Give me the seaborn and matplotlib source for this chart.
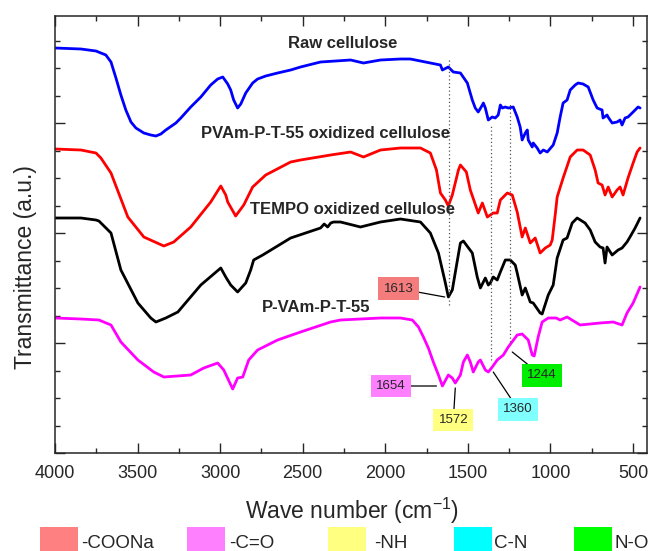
import numpy as np
import pandas as pd
import matplotlib
matplotlib.use("Agg")
import matplotlib.pyplot as plt
import seaborn as sns
from matplotlib.patches import Rectangle
from matplotlib.ticker import MultipleLocator

# ---------------- data ----------------
raw_wn = [4000, 3843, 3752, 3692, 3661, 3631, 3601, 3571, 3540, 3510, 3462, 3420, 3389, 3359, 3329, 3268, 3238,
          3178, 3117, 3057, 3015, 2984, 2954, 2936, 2918, 2894, 2875, 2845, 2803, 2773, 2724, 2652, 2573, 2513,
          2392, 2301, 2210, 2132, 2029, 1908, 1848, 1787, 1727, 1666, 1654, 1618, 1588, 1545, 1503, 1473, 1455,
          1437, 1412, 1406, 1394, 1376, 1352, 1334, 1316, 1303, 1291, 1273, 1255, 1225, 1201, 1183, 1171, 1152,
          1140, 1134, 1110, 1104, 1080, 1062, 1043, 1019, 983, 959, 941, 923, 899, 880, 850, 832, 802, 771, 741,
          717, 687, 681, 657, 651, 626, 596, 578, 566, 548, 530, 499, 469, 457]
raw_t = [405, 404, 402, 398, 391, 375, 358, 343, 331, 325, 320, 318, 317, 319, 323, 330, 335,
         346, 356, 368, 374, 376, 369, 363, 353, 345, 349, 360, 370, 374, 377, 380, 383, 386,
         391, 392, 393, 390, 393, 394, 394, 392, 390, 388, 383, 386, 381, 380, 370, 353, 345,
         341, 348, 350, 345, 333, 336, 335, 338, 348, 345, 346, 345, 346, 336, 326, 313, 320,
         323, 313, 306, 310, 305, 300, 303, 301, 308, 320, 336, 350, 353, 363, 368, 370, 369, 366, 353,
         345, 343, 335, 338, 336, 330, 331, 333, 328, 335, 336, 341, 346, 345]

pvam_ox_wn = [4000, 3843, 3752, 3722, 3661, 3559, 3462, 3341, 3281, 3178, 3057, 2996, 2966, 2954, 2906, 2857,
              2803, 2724, 2573, 2513, 2331, 2210, 2132, 2029, 1908, 1787, 1727, 1690, 1666, 1636, 1618, 1594,
              1557, 1545, 1509, 1485, 1437, 1412, 1382, 1346, 1322, 1303, 1261, 1231, 1201, 1171, 1152, 1122,
              1092, 1062, 1031, 1001, 989, 971, 959, 923, 880, 838, 802, 759, 729, 711, 687, 669, 650, 626,
              596, 578, 560, 530, 499, 475, 457]
pvam_ox_t = [304, 303, 300, 295, 280, 236, 216, 207, 211, 226, 251, 267, 258, 251, 237, 248,
             266, 278, 291, 293, 298, 301, 296, 303, 305, 305, 300, 283, 260, 253, 247, 258,
             283, 288, 281, 263, 240, 250, 236, 240, 240, 253, 260, 258, 241, 216, 225, 210,
             215, 200, 205, 208, 213, 238, 256, 275, 296, 303, 303, 298, 283, 270, 268, 258, 266, 256,
             263, 266, 258, 275, 290, 301, 305]

tempo_wn = [4000, 3843, 3752, 3734, 3661, 3601, 3498, 3420, 3389, 3329, 3256, 3117, 2996, 2966, 2936, 2894,
            2845, 2815, 2797, 2742, 2573, 2392, 2370, 2349, 2330, 2313, 2271, 2150, 2029, 1908, 1787, 1727,
            1678, 1636, 1618, 1594, 1563, 1545, 1527, 1473, 1443, 1424, 1394, 1376, 1364, 1346, 1322, 1303,
            1273, 1243, 1213, 1201, 1171, 1152, 1122, 1104, 1062, 1050, 1013, 983, 959, 923, 899, 868, 838,
            790, 759, 729, 699, 681, 669, 657, 626, 590, 566, 536, 518, 487, 457]
tempo_t = [235, 235, 233, 232, 220, 183, 150, 135, 131, 135, 141, 168, 185, 176, 168, 161,
           170, 183, 193, 198, 215, 225, 229, 226, 230, 231, 231, 226, 231, 234, 231, 220,
           200, 170, 156, 163, 193, 210, 212, 200, 176, 165, 175, 168, 170, 176, 173, 181,
           193, 193, 188, 180, 158, 165, 151, 150, 140, 139, 158, 168, 195, 213, 215, 230, 235,
           230, 223, 211, 206, 205, 190, 206, 198, 203, 205, 211, 216, 225, 235]

pvam_wn = [4000, 3843, 3734, 3661, 3601, 3498, 3402, 3341, 3178, 3099, 3015, 2978, 2924, 2894, 2863, 2827,
           2773, 2652, 2513, 2331, 2271, 2029, 1908, 1836, 1799, 1769, 1739, 1709, 1678, 1654, 1618, 1594,
           1576, 1545, 1527, 1503, 1485, 1467, 1437, 1424, 1394, 1376, 1352, 1322, 1285, 1255, 1201, 1171,
           1134, 1110, 1098, 1074, 1050, 1013, 965, 941, 899, 820, 699, 620, 566, 536, 499, 457]
pvam_t = [135, 134, 133, 128, 111, 93, 81, 76, 78, 85, 90, 83, 64, 75, 76, 93,
          103, 113, 121, 131, 133, 135, 135, 133, 126, 116, 105, 91, 78, 67, 78, 75,
          70, 78, 91, 98, 91, 81, 91, 93, 83, 81, 86, 93, 98, 106, 118, 119,
          113, 98, 97, 116, 131, 135, 135, 133, 136, 128, 130, 131, 128, 140, 150, 166]

sample_names = ["Raw cellulose", "PVAm-P-T-55 oxidized cellulose", "TEMPO oxidized cellulose", "P-VAm-P-T-55"]
sample_colors = ["#0000FF", "#FF0000", "#000000", "#FF00FF"]
label_wn = [2259, 2362, 2198, 2416]
label_t = [409, 320, 243, 145]

peak_labels = ["1613", "1654", "1572", "1360", "1244"]
peak_colors = ["#F47C7C", "#FF80FF", "#FFFF80", "#80FFFF", "#00EE00"]
peak_xy_wn = [1640, 1690, 1576, 1346, 1231]
peak_xy_t = [156, 67, 65, 81, 101]
peak_box_wn = [1920, 1966, 1588, 1195, 1053]
peak_box_t = [164.5, 67, 33, 43.5, 77.5]

guide_wn = [1613, 1360, 1244]
guide_lo = [148, 93, 111]
guide_hi = [393, 328, 351]

legend_labels = ["-COONa", "-C=O", "-NH", "C-N", "N-O"]
legend_colors = ["#FF8080", "#FF80FF", "#FFFF80", "#00FFFF", "#00FF00"]

xticks = [4000, 3500, 3000, 2500, 2000, 1500, 1000, 500]

# ---------------- build table ----------------
frames = []
for name, wn, t in zip(sample_names,
                       [raw_wn, pvam_ox_wn, tempo_wn, pvam_wn],
                       [raw_t, pvam_ox_t, tempo_t, pvam_t]):
    frames.append(pd.DataFrame({"wn": wn, "T": t, "sample": name}))
df = pd.concat(frames, ignore_index=True)

# ---------------- style ----------------
sns.set_style("ticks")
plt.rcParams["font.family"] = ["Liberation Sans", "DejaVu Sans"]
plt.rcParams["mathtext.fontset"] = "custom"
plt.rcParams["mathtext.rm"] = "Liberation Sans"
plt.rcParams["mathtext.default"] = "regular"
plt.rcParams["lines.solid_joinstyle"] = "round"
plt.rcParams["lines.solid_capstyle"] = "round"

fig = plt.figure(figsize=(6.48, 5.51), dpi=100)
ax = fig.add_axes([55 / 648, 98 / 551, (647 - 55) / 648, 437 / 551])

sns.lineplot(data=df, x="wn", y="T", hue="sample", palette=dict(zip(sample_names, sample_colors)),
             sort=False, estimator=None, legend=False, linewidth=2.0, ax=ax)
for ln in ax.get_lines():
    ln.set_solid_joinstyle("round")

ax.set_xlim(4000, 415)
ax.set_ylim(0, 437)
ax.set_xticks(xticks)
ax.set_xticklabels([str(v) for v in xticks], fontsize=13)
ax.xaxis.set_minor_locator(MultipleLocator(250))
ax.yaxis.set_major_locator(MultipleLocator(110))
ax.yaxis.set_minor_locator(MultipleLocator(27.5))
ax.set_yticklabels([])
ax.tick_params(which="both", direction="in", top=True, right=True, width=1.0)
ax.tick_params(which="major", length=7)
ax.tick_params(which="minor", length=3.5)
ax.tick_params(axis="x", pad=9)
for s in ax.spines.values():
    s.set_linewidth(1.1)
ax.set_xlabel("")
ax.set_ylabel("")

# curve labels
for name, lx, ly in zip(sample_names, label_wn, label_t):
    ax.text(lx, ly, name, ha="center", va="center", fontsize=12, fontweight="bold")

# dotted guide lines
ax.vlines(guide_wn, guide_lo, guide_hi, colors="#555555", linestyles=(0, (1, 2)), linewidth=0.9)

# peak annotations
for lab, col, xw, xt, bw, bt in zip(peak_labels, peak_colors, peak_xy_wn, peak_xy_t, peak_box_wn, peak_box_t):
    ax.annotate(lab, xy=(xw, xt), xytext=(bw, bt), ha="center", va="center", fontsize=9.5,
                bbox=dict(boxstyle="square,pad=0.4", fc=col, ec="none"),
                arrowprops=dict(arrowstyle="-", color="black", lw=0.9, shrinkA=0, shrinkB=0))

# axis labels
fig.text(26 / 648, 1 - 267 / 551, "Transmittance (a.u.)", rotation=90, ha="center", va="center", fontsize=16.5)
fig.text(352 / 648, 1 - 511 / 551, "Wave number (cm$^{-1}$)", ha="center", va="center", fontsize=16.5)

# colour key
patch_x = [40, 187, 328, 454, 574]
text_x = [81, 229, 374, 494, 614]
for px, tx, lab, col in zip(patch_x, text_x, legend_labels, legend_colors):
    fig.patches.append(Rectangle((px / 648, -2 / 551), 38 / 648, 26 / 551, transform=fig.transFigure,
                                 facecolor=col, edgecolor="none"))
    fig.text(tx / 648, 1 - 543 / 551, lab, ha="left", va="center", fontsize=13.5)

fig.savefig("out.png", dpi=100)
